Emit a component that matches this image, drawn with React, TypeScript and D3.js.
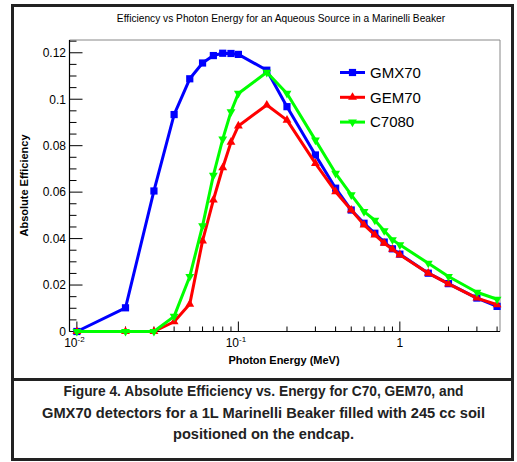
import React from "react";
import * as d3 from "d3";

const energies = [0.01, 0.02, 0.03, 0.04, 0.05, 0.06, 0.07, 0.08, 0.09, 0.1, 0.15, 0.2, 0.3, 0.4, 0.5, 0.6, 0.7, 0.8, 0.9, 1.0, 1.5, 2, 3, 4];
const gmx70 = [0, 0.0102, 0.0605, 0.0934, 0.1088, 0.1156, 0.1188, 0.1198, 0.1197, 0.1193, 0.1125, 0.0968, 0.076, 0.0617, 0.0523, 0.0466, 0.0423, 0.0385, 0.0356, 0.0333, 0.0251, 0.0206, 0.0144, 0.0108];
const gem70 = [0, 0, 0, 0.0042, 0.0118, 0.039, 0.0566, 0.0705, 0.0815, 0.0885, 0.0975, 0.091, 0.0724, 0.0602, 0.0523, 0.0459, 0.0416, 0.038, 0.0354, 0.033, 0.0251, 0.0205, 0.0144, 0.0115];
const c7080 = [0, 0, 0, 0.0065, 0.0237, 0.0455, 0.0672, 0.0828, 0.0946, 0.1025, 0.1116, 0.1025, 0.0824, 0.0681, 0.0588, 0.0516, 0.0479, 0.0434, 0.0395, 0.0373, 0.0294, 0.0237, 0.0169, 0.0139];

const seriesNames = ["GMX70", "GEM70", "C7080"];
const seriesColors = ["#0000ff", "#ff0000", "#00ff00"];
const seriesMarkers = ["square", "triangleUp", "triangleDown"];

const yTicks = [0, 0.02, 0.04, 0.06, 0.08, 0.1, 0.12];
const yTickLabels = ["0", "0.02", "0.04", "0.06", "0.08", "0.1", "0.12"];
const xMajorTicks = [0.01, 0.1, 1];
const xTickBases = ["10", "10", "1"];
const xTickExps = ["-2", "-1", ""];

const titleText = "Efficiency vs Photon Energy for an Aqueous Source in a Marinelli Beaker";
const xLabel = "Photon Energy (MeV)";
const yLabel = "Absolute Efficiency";
const captionLines = [
  "Figure 4. Absolute Efficiency vs. Energy for C70, GEM70, and",
  "GMX70 detectors for a 1L Marinelli Beaker filled with 245 cc soil",
  "positioned on the endcap.",
];

const W = 517;
const H = 462;
const L = 69.5, R = 500, T = 40, B = 331.5;

export default function App() {
  const x = d3.scaleLog().domain([0.009, 4.17]).range([L, R]);
  const y = d3.scaleLinear().domain([0, 0.1255]).range([B, T]);

  const minorX: number[] = [];
  for (const d of xMajorTicks) {
    for (let k = 2; k <= 9; k++) {
      const v = k * d;
      if (v <= 4.17) minorX.push(v);
    }
  }
  const minorY: number[] = [];
  for (let i = 0; i <= 25; i++) {
    const v = i * 0.005;
    if (i % 4 !== 0 && v <= 0.1255) minorY.push(v);
  }

  const series = [gmx70, gem70, c7080];
  const order = [0, 1, 2];

  const line = d3
    .line<number>()
    .x((_, i) => x(energies[i]))
    .y((v) => y(v));

  const sq = d3.symbol().type(d3.symbolSquare).size(52)() as string;
  const tri = d3.symbol().type(d3.symbolTriangle).size(34)() as string;

  const marker = (kind: string, cx: number, cy: number, color: string, key: string) => {
    if (kind === "square") return <path key={key} d={sq} transform={`translate(${cx},${cy})`} fill={color} />;
    if (kind === "triangleUp") return <path key={key} d={tri} transform={`translate(${cx},${cy})`} fill={color} />;
    return <path key={key} d={tri} transform={`translate(${cx},${cy}) rotate(180)`} fill={color} />;
  };

  const font = "'Liberation Sans', Arial, Helvetica, sans-serif";

  return (
    <svg
      width={W}
      height={H}
      style={{ position: "absolute", left: 0, top: 0, display: "block", background: "#fff" }}
      fontFamily={font}
    >
      <rect x={0} y={0} width={W} height={H} fill="#fff" />
      {/* outer frames */}
      <rect x={12.5} y={5.5} width={500} height={374} fill="none" stroke="#222" strokeWidth={3} />
      <rect x={12.5} y={379.5} width={500} height={80} fill="none" stroke="#222" strokeWidth={3} />

      {/* title */}
      <text x={281} y={22} fontSize={10.2} textAnchor="middle" fill="#000">
        {titleText}
      </text>

      {/* plot frame */}
      <line x1={L} y1={T} x2={R} y2={T} stroke="#888" strokeWidth={1} />
      <line x1={R} y1={T} x2={R} y2={B} stroke="#888" strokeWidth={1} />

      {/* y ticks */}
      {yTicks.map((v, i) => (
        <g key={`yt${i}`}>
          <line x1={L} x2={L + 13} y1={y(v)} y2={y(v)} stroke="#000" strokeWidth={1} />
          <text x={66} y={y(v) + 4.3} fontSize={12} textAnchor="end" fill="#000">
            {yTickLabels[i]}
          </text>
        </g>
      ))}
      {minorY.map((v, i) => (
        <line key={`ym${i}`} x1={L} x2={L + 7} y1={y(v)} y2={y(v)} stroke="#000" strokeWidth={1} />
      ))}

      {/* x ticks */}
      {xMajorTicks.map((v, i) => (
        <g key={`xt${i}`}>
          <line x1={x(v)} x2={x(v)} y1={B} y2={B - 10} stroke="#000" strokeWidth={1} />
          <text x={x(v) - (xTickExps[i] ? 2.5 : 0)} y={347} fontSize={12} textAnchor="middle" fill="#000">
            {xTickBases[i]}
            {xTickExps[i] ? (
              <tspan fontSize={8} dy={-5}>
                {xTickExps[i]}
              </tspan>
            ) : null}
          </text>
        </g>
      ))}
      {minorX.map((v, i) => (
        <line key={`xm${i}`} x1={x(v)} x2={x(v)} y1={B} y2={B - 5} stroke="#000" strokeWidth={1} />
      ))}

      {/* axes */}
      <line x1={L} y1={T} x2={L} y2={B} stroke="#000" strokeWidth={1.2} />
      <line x1={L} y1={B} x2={R} y2={B} stroke="#000" strokeWidth={1.2} />

      {/* series */}
      {order.map((si) => (
        <g key={`s${si}`}>
          <path d={line(series[si]) as string} fill="none" stroke={seriesColors[si]} strokeWidth={3} strokeLinejoin="round" />
          {series[si].map((v, i) => marker(seriesMarkers[si], x(energies[i]), y(v), seriesColors[si], `m${si}-${i}`))}
        </g>
      ))}

      {/* legend */}
      {seriesNames.map((n, i) => {
        const cy = 72.5 + i * 24.8;
        return (
          <g key={`lg${i}`}>
            <line x1={340} x2={365} y1={cy} y2={cy} stroke={seriesColors[i]} strokeWidth={3} />
            {marker(seriesMarkers[i], 352.5, cy, seriesColors[i], `lm${i}`)}
            <text x={370} y={cy + 5.2} fontSize={15} fill="#000">
              {n}
            </text>
          </g>
        );
      })}

      {/* axis labels */}
      <text x={284} y={364} fontSize={11} fontWeight="bold" textAnchor="middle" fill="#000">
        {xLabel}
      </text>
      <text
        transform={`translate(28,185.5) rotate(-90)`}
        fontSize={11}
        fontWeight="bold"
        textAnchor="middle"
        fill="#000"
      >
        {yLabel}
      </text>

      {/* caption */}
      {captionLines.map((t, i) => (
        <text
          key={`c${i}`}
          x={263.5}
          y={[396, 417.5, 439][i]}
          fontSize={15}
          fontWeight="bold"
          textAnchor="middle"
          fill="#222"
          textLength={[400, 443, 181][i]}
          lengthAdjust="spacingAndGlyphs"
        >
          {t}
        </text>
      ))}
    </svg>
  );
}
